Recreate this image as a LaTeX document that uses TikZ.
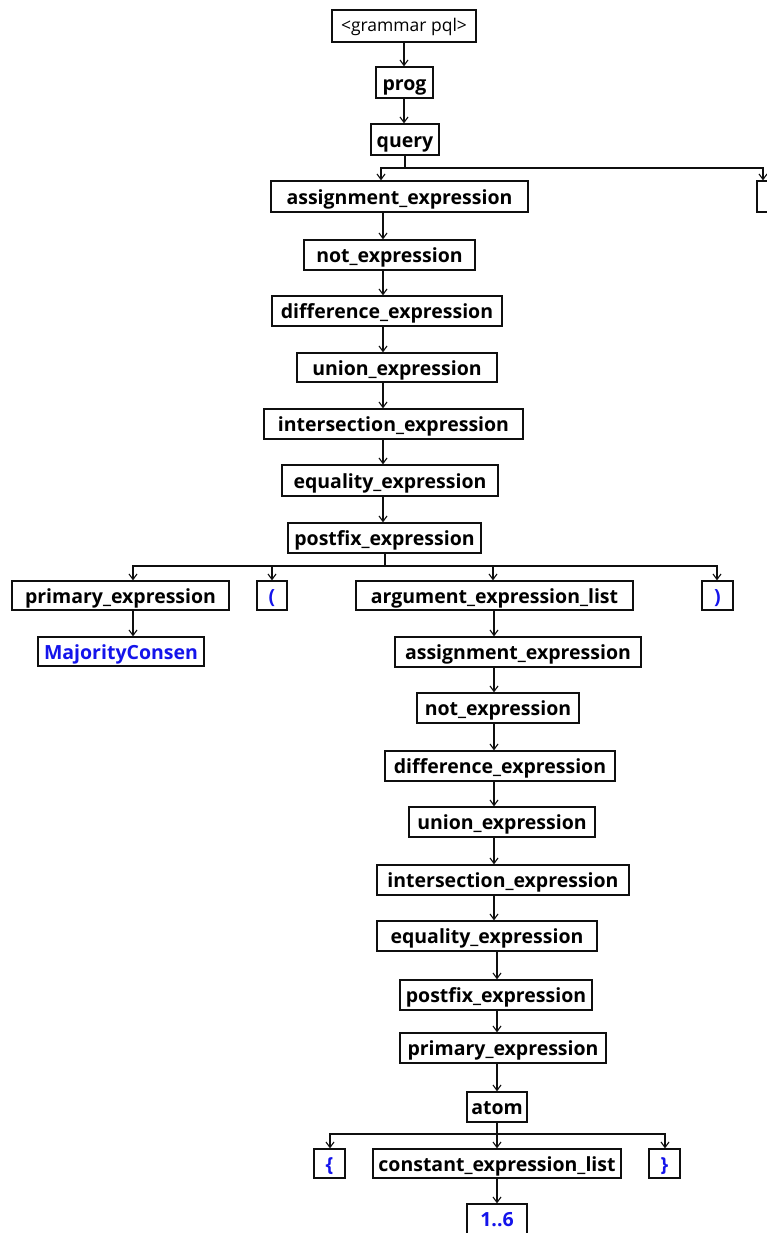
\documentclass[tikz,border=0pt]{standalone}
\usepackage{fontspec}
\setmainfont{Open Sans}
\usetikzlibrary{arrows.meta}
\definecolor{tokblue}{RGB}{20,20,235}
\definecolor{inkline}{RGB}{15,15,15}
\begin{document}
\begin{tikzpicture}[x=1pt,y=-1pt,
  box/.style={draw=inkline, line width=1.2pt, inner sep=0pt, minimum height=30pt,
    text height=15.5pt, text depth=0pt,
    font=\fontsize{19.5}{22}\selectfont\bfseries, text=black},
  tok/.style={box, text=tokblue},
  arr/.style={draw=inkline, line width=1.1pt, -{Straight Barb[length=5.5pt,width=8pt]}},
  link/.style={draw=inkline, line width=1.1pt}]
\useasboundingbox (0,0) rectangle (767,1233);
\clip (0,0) rectangle (767,1233);
\fill[white] (0,0) rectangle (767,1233);

% parse tree nodes
\node[box, font=\fontsize{17.5}{20}\selectfont, text height=10.5pt, minimum width=144, minimum height=32] (g) at (404,26) {<grammar pql>};
\node[box, minimum width=57, minimum height=31] (prog) at (404.5,82.5) {prog};
\node[box, minimum width=68, minimum height=31] (query) at (405,139.5) {query};
\node[box, minimum width=257, minimum height=31] (ae1) at (399.5,196.5) {assignment\_expression};
\node[box, minimum width=60, minimum height=31] (sib) at (787,196.5) {};
\node[box, minimum width=171] (ne1) at (389.5,255) {not\_expression};
\node[box, minimum width=230] (de1) at (387,311) {difference\_expression};
\node[box, minimum width=200, minimum height=29] (ue1) at (397,367.5) {union\_expression};
\node[box, minimum width=259] (ie1) at (393.5,424) {intersection\_expression};
\node[box, minimum width=216, minimum height=31] (ee1) at (390,480.5) {equality\_expression};
\node[box, minimum width=193] (pf1) at (384.5,538) {postfix\_expression};
\node[box, minimum width=217, minimum height=29] (pe1) at (120.5,595.5) {primary\_expression};
\node[tok, minimum width=30, minimum height=29] (lp) at (272,595.5) {(};
\node[box, minimum width=277, minimum height=29] (ael) at (494.5,595.5) {argument\_expression\_list};
\node[tok, minimum width=31, minimum height=29] (rp) at (717.5,595.5) {)};
\node[tok, minimum width=166, minimum height=29] (mc) at (121,651.5) {MajorityConsen};
\node[box, minimum width=246] (ae2) at (518,652) {assignment\_expression};
\node[box, minimum width=162] (ne2) at (498,708) {not\_expression};
\node[box, minimum width=230] (de2) at (500,766) {difference\_expression};
\node[box, minimum width=186] (ue2) at (502,822) {union\_expression};
\node[box, minimum width=252] (ie2) at (503,880) {intersection\_expression};
\node[box, minimum width=220] (ee2) at (487,936) {equality\_expression};
\node[box, minimum width=192] (pf2) at (496,995) {postfix\_expression};
\node[box, minimum width=206] (pe2) at (503,1048) {primary\_expression};
\node[box, minimum width=60] (atom) at (497,1107) {atom};
\node[tok, minimum width=31, minimum height=29] (lb) at (329.5,1163.5) {\{};
\node[box, minimum width=248, minimum height=29] (cel) at (497,1163.5) {constant\_expression\_list};
\node[tok, minimum width=31, minimum height=29] (rb) at (664.5,1163.5) {\}};
\node[tok, minimum width=60] (num) at (497,1219) {1..6};

% connector columns and fork rails
\coordinate (c0) at (404,0);
\coordinate (c1) at (383,0);
\coordinate (c2) at (494,0);
\coordinate (c3) at (497,0);
\coordinate (fq) at (405,168);
\coordinate (fp) at (385,566);
\coordinate (fa) at (497,1134);

% straight chains
\draw[arr] (g.south -| c0) -- (prog.north -| c0);
\draw[arr] (prog.south -| c0) -- (query.north -| c0);
\draw[arr] (ae1.south -| c1) -- (ne1.north -| c1);
\draw[arr] (ne1.south -| c1) -- (de1.north -| c1);
\draw[arr] (de1.south -| c1) -- (ue1.north -| c1);
\draw[arr] (ue1.south -| c1) -- (ie1.north -| c1);
\draw[arr] (ie1.south -| c1) -- (ee1.north -| c1);
\draw[arr] (ee1.south -| c1) -- (pf1.north -| c1);
\draw[arr] (pe1.south -| 133,0) -- (mc.north -| 133,0);
\draw[arr] (ael.south -| c2) -- (ae2.north -| c2);
\draw[arr] (ae2.south -| c2) -- (ne2.north -| c2);
\draw[arr] (ne2.south -| c2) -- (de2.north -| c2);
\draw[arr] (de2.south -| c2) -- (ue2.north -| c2);
\draw[arr] (ue2.south -| c2) -- (ie2.north -| c2);
\draw[arr] (ie2.south -| c2) -- (ee2.north -| c2);
\draw[arr] (ee2.south -| c3) -- (pf2.north -| c3);
\draw[arr] (pf2.south -| c3) -- (pe2.north -| c3);
\draw[arr] (pe2.south -| c3) -- (atom.north -| c3);
\draw[arr] (cel.south -| c3) -- (num.north -| c3);

% forks
\draw[link] (query.south -| fq) -- (fq);
\draw[arr] (fq) -| (ae1.north -| 381,0);
\draw[arr] (fq) -| (sib.north -| 763,0);

\draw[link] (pf1.south -| fp) -- (fp);
\draw[arr] (fp) -| (pe1.north -| 133,0);
\draw[arr] (fp) -| (lp.north -| 272,0);
\draw[arr] (fp) -| (ael.north -| 493,0);
\draw[arr] (fp) -| (rp.north -| 717,0);

\draw[link] (atom.south -| fa) -- (fa);
\draw[arr] (fa) -| (lb.north -| 330,0);
\draw[arr] (fa) -- (cel.north -| fa);
\draw[arr] (fa) -| (rb.north -| 665,0);
\end{tikzpicture}
\end{document}
